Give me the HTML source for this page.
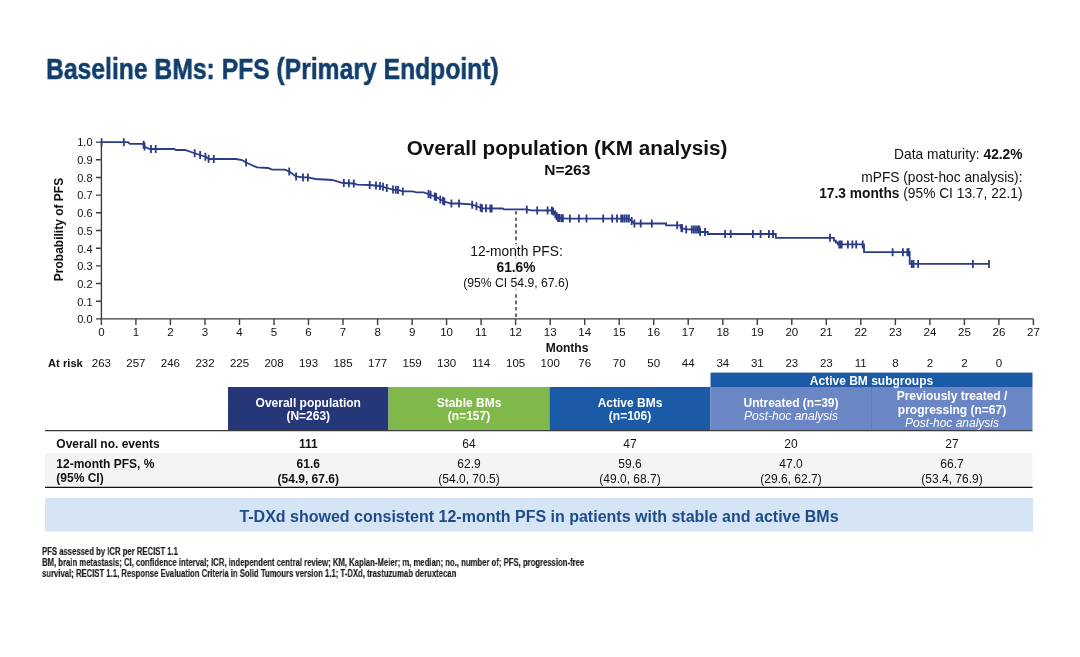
<!DOCTYPE html>
<html><head><meta charset="utf-8"><style>
html,body{margin:0;padding:0;background:#fff;}
svg,.abs{will-change:transform;}
body{width:1080px;height:657px;position:relative;overflow:hidden;font-family:"Liberation Sans",sans-serif;}
.abs{position:absolute;white-space:nowrap;}
#title{left:46px;top:48.6px;font-size:30px;font-weight:bold;color:#113e6c;transform:scaleX(0.823);transform-origin:0 0;line-height:40px;-webkit-text-stroke:0.5px #113e6c;}
svg{position:absolute;left:0;top:0;}
svg text{font-family:"Liberation Sans",sans-serif;}
</style></head><body>
<div class="abs" id="title">Baseline BMs: PFS (Primary Endpoint)</div>
<svg width="1080" height="657" viewBox="0 0 1080 657" fill="#111">
<g stroke="#3c3c3c" stroke-width="1.4" fill="none">
<path d="M101.4,141.59999999999997V318.9H1033.4"/>
<path d="M96,318.9H101.4M96,301.2H101.4M96,283.5H101.4M96,265.9H101.4M96,248.2H101.4M96,230.5H101.4M96,212.8H101.4M96,195.1H101.4M96,177.5H101.4M96,159.8H101.4M96,142.1H101.4"/>
<path d="M101.4,318.9V324.9M135.9,318.9V324.9M170.4,318.9V324.9M205.0,318.9V324.9M239.5,318.9V324.9M274.0,318.9V324.9M308.5,318.9V324.9M343.0,318.9V324.9M377.6,318.9V324.9M412.1,318.9V324.9M446.6,318.9V324.9M481.1,318.9V324.9M515.6,318.9V324.9M550.2,318.9V324.9M584.7,318.9V324.9M619.2,318.9V324.9M653.7,318.9V324.9M688.2,318.9V324.9M722.8,318.9V324.9M757.3,318.9V324.9M791.8,318.9V324.9M826.3,318.9V324.9M860.8,318.9V324.9M895.4,318.9V324.9M929.9,318.9V324.9M964.4,318.9V324.9M998.9,318.9V324.9M1033.4,318.9V324.9"/>
</g>
<path d="M516,211V319" stroke="#3a3a3a" stroke-width="1.5" stroke-dasharray="3.6,2.8" fill="none"/>
<rect x="460" y="244" width="112" height="48" fill="#fff" fill-opacity="0.8"/>
<g font-size="11"><text x="92.5" y="323.2" text-anchor="end">0.0</text><text x="92.5" y="305.5" text-anchor="end">0.1</text><text x="92.5" y="287.8" text-anchor="end">0.2</text><text x="92.5" y="270.2" text-anchor="end">0.3</text><text x="92.5" y="252.5" text-anchor="end">0.4</text><text x="92.5" y="234.8" text-anchor="end">0.5</text><text x="92.5" y="217.1" text-anchor="end">0.6</text><text x="92.5" y="199.4" text-anchor="end">0.7</text><text x="92.5" y="181.8" text-anchor="end">0.8</text><text x="92.5" y="164.1" text-anchor="end">0.9</text><text x="92.5" y="146.4" text-anchor="end">1.0</text></g>
<g font-size="11.5"><text x="101.4" y="335.6" text-anchor="middle">0</text><text x="135.9" y="335.6" text-anchor="middle">1</text><text x="170.4" y="335.6" text-anchor="middle">2</text><text x="205.0" y="335.6" text-anchor="middle">3</text><text x="239.5" y="335.6" text-anchor="middle">4</text><text x="274.0" y="335.6" text-anchor="middle">5</text><text x="308.5" y="335.6" text-anchor="middle">6</text><text x="343.0" y="335.6" text-anchor="middle">7</text><text x="377.6" y="335.6" text-anchor="middle">8</text><text x="412.1" y="335.6" text-anchor="middle">9</text><text x="446.6" y="335.6" text-anchor="middle">10</text><text x="481.1" y="335.6" text-anchor="middle">11</text><text x="515.6" y="335.6" text-anchor="middle">12</text><text x="550.2" y="335.6" text-anchor="middle">13</text><text x="584.7" y="335.6" text-anchor="middle">14</text><text x="619.2" y="335.6" text-anchor="middle">15</text><text x="653.7" y="335.6" text-anchor="middle">16</text><text x="688.2" y="335.6" text-anchor="middle">17</text><text x="722.8" y="335.6" text-anchor="middle">18</text><text x="757.3" y="335.6" text-anchor="middle">19</text><text x="791.8" y="335.6" text-anchor="middle">20</text><text x="826.3" y="335.6" text-anchor="middle">21</text><text x="860.8" y="335.6" text-anchor="middle">22</text><text x="895.4" y="335.6" text-anchor="middle">23</text><text x="929.9" y="335.6" text-anchor="middle">24</text><text x="964.4" y="335.6" text-anchor="middle">25</text><text x="998.9" y="335.6" text-anchor="middle">26</text><text x="1033.4" y="335.6" text-anchor="middle">27</text></g>
<text x="567" y="351.9" text-anchor="middle" font-size="12" font-weight="bold">Months</text>
<text x="48" y="366.7" font-size="11.2" font-weight="bold">At risk</text>
<g font-size="11.5"><text x="101.4" y="366.7" text-anchor="middle">263</text><text x="135.9" y="366.7" text-anchor="middle">257</text><text x="170.4" y="366.7" text-anchor="middle">246</text><text x="205.0" y="366.7" text-anchor="middle">232</text><text x="239.5" y="366.7" text-anchor="middle">225</text><text x="274.0" y="366.7" text-anchor="middle">208</text><text x="308.5" y="366.7" text-anchor="middle">193</text><text x="343.0" y="366.7" text-anchor="middle">185</text><text x="377.6" y="366.7" text-anchor="middle">177</text><text x="412.1" y="366.7" text-anchor="middle">159</text><text x="446.6" y="366.7" text-anchor="middle">130</text><text x="481.1" y="366.7" text-anchor="middle">114</text><text x="515.6" y="366.7" text-anchor="middle">105</text><text x="550.2" y="366.7" text-anchor="middle">100</text><text x="584.7" y="366.7" text-anchor="middle">76</text><text x="619.2" y="366.7" text-anchor="middle">70</text><text x="653.7" y="366.7" text-anchor="middle">50</text><text x="688.2" y="366.7" text-anchor="middle">44</text><text x="722.8" y="366.7" text-anchor="middle">34</text><text x="757.3" y="366.7" text-anchor="middle">31</text><text x="791.8" y="366.7" text-anchor="middle">23</text><text x="826.3" y="366.7" text-anchor="middle">23</text><text x="860.8" y="366.7" text-anchor="middle">11</text><text x="895.4" y="366.7" text-anchor="middle">8</text><text x="929.9" y="366.7" text-anchor="middle">2</text><text x="964.4" y="366.7" text-anchor="middle">2</text><text x="998.9" y="366.7" text-anchor="middle">0</text></g>
<text transform="translate(63,229.5) rotate(-90)" text-anchor="middle" font-size="12" font-weight="bold">Probability of PFS</text>
<path d="M101.3,142.2 L128.0,142.2 L130.0,143.9 L143.0,143.9 L145.0,147.0 L150.0,149.0 L174.0,149.0 L176.0,150.0 L185.0,150.0 L194.0,153.0 L200.0,155.0 L206.0,157.0 L209.0,159.0 L236.0,159.0 L242.0,160.0 L246.0,162.5 L257.0,167.4 L268.0,168.0 L272.0,169.7 L285.0,169.7 L290.0,172.0 L296.0,176.4 L303.0,177.4 L308.0,177.4 L315.5,179.0 L332.0,180.0 L343.0,183.0 L354.0,183.5 L357.0,184.7 L370.0,185.0 L380.0,186.0 L383.0,186.8 L386.8,188.0 L393.0,189.6 L398.0,190.0 L402.8,191.4 L412.5,191.4 L416.7,192.4 L423.6,192.4 L428.5,194.0 L436.0,197.0 L444.0,201.4 L451.0,203.5 L459.0,203.5 L470.8,204.4 L476.0,206.0 L482.0,208.3 L502.8,208.5 L504.0,209.4 L526.8,209.4 L531.0,210.3 L552.5,210.5 L558.0,217.9 L566.4,218.6 L628.9,218.6 L634.4,223.5 L666.1,223.5 L666.1,225.3 L680.7,225.3 L680.7,227.8 L686.0,229.4 L699.4,229.4 L700.1,232.0 L707.8,232.0 L707.8,234.0 L775.8,234.0 L775.8,237.8 L833.9,237.8 L833.9,240.6 L835.8,240.6 L835.8,242.5 L837.8,242.5 L837.8,244.4 L864.0,244.4 L864.0,252.2 L909.7,252.2 L909.7,263.9 L989.0,263.9" stroke="#2b3b87" stroke-width="1.8" fill="none" stroke-linejoin="miter"/>
<path d="M101.6,138.2v8M123.8,138.2v8M143.6,140.8v8M144.6,142.4v8M151.0,145.0v8M155.7,145.0v8M194.7,149.2v8M200.1,151.0v8M205.4,152.8v8M208.6,154.7v8M213.8,155.0v8M246.1,158.5v8M289.2,167.6v8M296.1,172.4v8M303.0,173.4v8M307.9,173.4v8M343.8,179.0v8M348.9,179.3v8M353.8,179.5v8M369.7,181.0v8M376.0,181.6v8M380.0,182.0v8M383.0,182.8v8M386.8,184.0v8M393.0,185.6v8M395.8,185.8v8M398.0,186.0v8M402.8,187.4v8M428.5,190.0v8M430.6,190.8v8M434.7,192.5v8M436.1,193.1v8M440.3,195.4v8M443.0,196.8v8M444.4,197.5v8M451.4,199.5v8M459.0,199.5v8M472.2,200.8v8M476.4,202.2v8M480.6,203.8v8M482.0,204.3v8M486.0,204.3v8M490.3,204.4v8M491.7,204.4v8M526.8,205.4v8M537.2,206.4v8M547.6,206.5v8M551.8,206.5v8M553.2,207.4v8M555.3,210.3v8M556.7,212.2v8M558.0,213.9v8M559.4,214.0v8M561.5,214.2v8M562.9,214.3v8M569.9,214.6v8M578.9,214.6v8M586.5,214.6v8M603.2,214.6v8M612.2,214.6v8M617.0,214.6v8M621.2,214.6v8M622.6,214.6v8M624.7,214.6v8M626.8,214.6v8M628.9,214.6v8M631.7,217.1v8M634.4,219.5v8M640.7,219.5v8M651.8,219.5v8M677.2,221.3v8M681.4,224.0v8M682.1,224.2v8M686.2,225.4v8M691.8,225.4v8M693.9,225.4v8M696.0,225.4v8M698.0,225.4v8M699.4,225.4v8M700.1,228.0v8M705.0,228.0v8M725.1,230.0v8M730.7,230.0v8M752.9,230.0v8M760.6,230.0v8M768.9,230.0v8M773.0,230.0v8M830.0,233.8v8M839.3,240.4v8M840.7,240.4v8M841.7,240.4v8M847.9,240.4v8M852.4,240.4v8M856.2,240.4v8M862.7,240.4v8M892.6,248.2v8M902.9,248.2v8M907.4,248.2v8M908.7,248.2v8M911.7,259.9v8M913.6,259.9v8M918.1,259.9v8M972.9,259.9v8M989.0,259.9v8" stroke="#2b3b87" stroke-width="1.8" fill="none"/>
<text x="567" y="155.4" text-anchor="middle" font-size="20.7" font-weight="bold">Overall population (KM analysis)</text>
<text x="567.3" y="175.4" text-anchor="middle" font-size="15.5" font-weight="bold">N=263</text>
<g font-size="13.75" text-anchor="end">
<text x="1022.5" y="159.3">Data maturity: <tspan font-weight="bold">42.2%</tspan></text>
<text x="1022.5" y="181.7">mPFS (post-hoc analysis):</text>
<text x="1022.5" y="198.3"><tspan font-weight="bold">17.3 months</tspan> (95% CI 13.7, 22.1)</text>
</g>
<g text-anchor="middle">
<text x="516.5" y="256" font-size="13.75">12-month PFS:</text>
<text x="516" y="271.7" font-size="13.75" font-weight="bold">61.6%</text>
<text x="516" y="286.7" font-size="12.2">(95% CI 54.9, 67.6)</text>
</g>

<!-- table -->
<rect x="710.5" y="372.6" width="322" height="14.6" fill="#1b5aa6"/>
<rect x="228" y="387" width="160.5" height="43" fill="#253779"/>
<rect x="388.5" y="387" width="161" height="43" fill="#80b84b"/>
<rect x="549.5" y="387" width="161" height="43" fill="#1a5aa6"/>
<rect x="710.5" y="387" width="322" height="43" fill="#6a86c4"/>
<path d="M871.5,387V430" stroke="#5f7bbb" stroke-width="1"/>
<rect x="45" y="453" width="987.5" height="34" fill="#f4f4f4"/>
<path d="M45,430.7H1032.5" stroke="#3a3a3a" stroke-width="1.3"/>
<path d="M45,487.3H1032.5" stroke="#111" stroke-width="1.3"/>
<g fill="#fff" font-weight="bold" font-size="12" text-anchor="middle">
<text x="871.5" y="385">Active BM subgroups</text>
<text x="308.25" y="407.2">Overall population</text><text x="308.25" y="420.2">(N=263)</text>
<text x="469" y="407.2">Stable BMs</text><text x="469" y="420.2">(n=157)</text>
<text x="630" y="407.2">Active BMs</text><text x="630" y="420.2">(n=106)</text>
<text x="791" y="407.2">Untreated (n=39)</text>
<text x="952" y="400">Previously treated /</text><text x="952" y="413.5">progressing (n=67)</text>
</g>
<g fill="#fff" font-style="italic" font-size="12" text-anchor="middle">
<text x="791" y="420.2">Post-hoc analysis</text>
<text x="952" y="427">Post-hoc analysis</text>
</g>
<g font-size="12">
<text x="56.3" y="447.5" font-weight="bold">Overall no. events</text>
<text x="56.3" y="468.3" font-weight="bold">12-month PFS, %</text>
<text x="56.3" y="482.1" font-weight="bold">(95% CI)</text>
</g>
<g font-size="12" text-anchor="middle">
<text x="308.25" y="447.7" font-weight="bold">111</text>
<text x="469" y="447.7">64</text><text x="630" y="447.7">47</text><text x="791" y="447.7">20</text><text x="952" y="447.7">27</text>
<text x="308.25" y="467.9" font-weight="bold">61.6</text><text x="308.25" y="483" font-weight="bold">(54.9, 67.6)</text>
<text x="469" y="467.9">62.9</text><text x="469" y="483">(54.0, 70.5)</text>
<text x="630" y="467.9">59.6</text><text x="630" y="483">(49.0, 68.7)</text>
<text x="791" y="467.9">47.0</text><text x="791" y="483">(29.6, 62.7)</text>
<text x="952" y="467.9">66.7</text><text x="952" y="483">(53.4, 76.9)</text>
</g>
<rect x="45" y="498" width="988" height="33.5" fill="#d6e5f5"/>
<text x="539" y="521.75" text-anchor="middle" font-size="16" font-weight="bold" style="fill:#1d4c8a">T-DXd showed consistent 12-month PFS in patients with stable and active BMs</text>
</svg>
<div class="abs" style="left:42.4px;top:546.5px;font-size:10px;font-weight:bold;line-height:10.9px;color:#1a1a1a;-webkit-text-stroke:0.15px #1a1a1a;transform:scaleX(0.772);transform-origin:0 0;">PFS assessed by ICR per RECIST 1.1<br>BM, brain metastasis; CI, confidence interval; ICR, independent central review; KM, Kaplan-Meier; m, median; no., number of; PFS, progression-free<br>survival; RECIST 1.1, Response Evaluation Criteria in Solid Tumours version 1.1; T-DXd, trastuzumab deruxtecan</div>
</body></html>
